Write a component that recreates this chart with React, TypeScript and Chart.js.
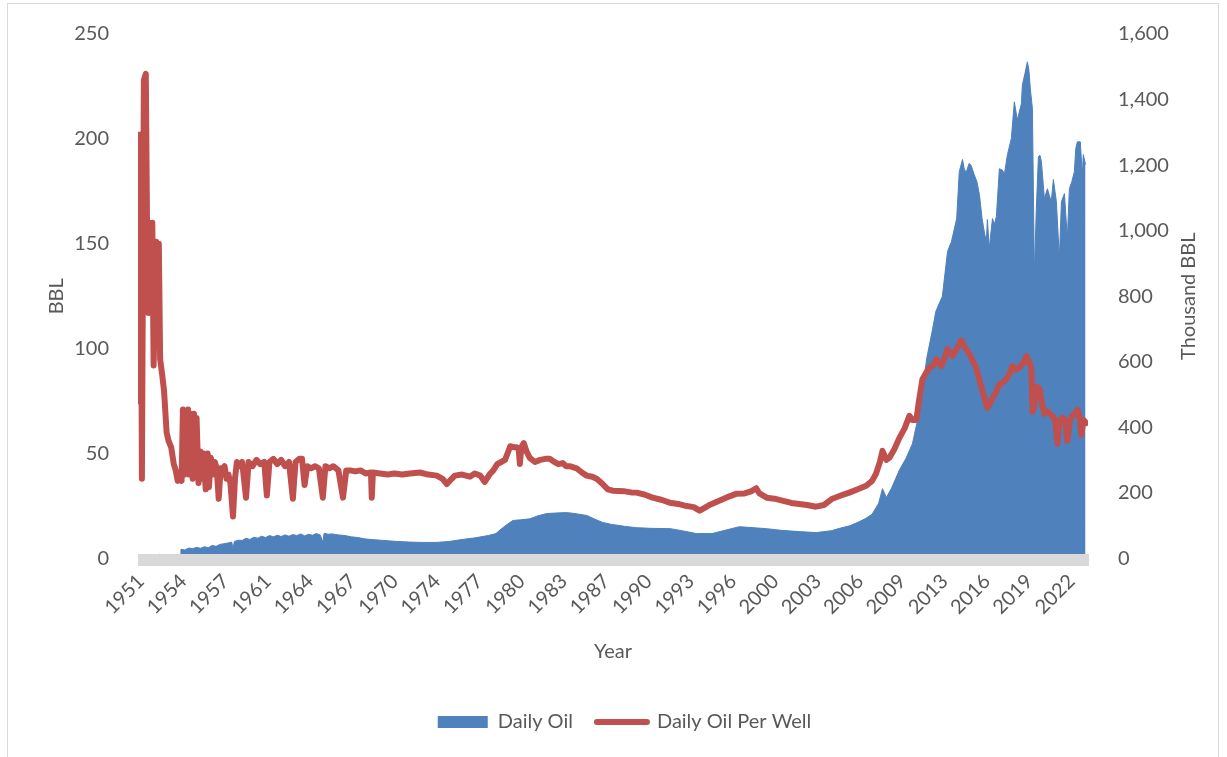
import React, { useEffect, useRef } from "react";
import { Chart, registerables } from "chart.js";

Chart.register(...registerables);

const BLUE = "#4f81bd";
const RED = "#c0504d";
const TEXT = "#595959";
const FONT = "Lato";

// X axis tick labels (one every 39 months starting mid-1951)
const xTickLabels = ["1951","1954","1957","1961","1964","1967","1970","1974","1977","1980","1983","1987","1990","1993","1996","2000","2003","2006","2009","2013","2016","2019","2022"];
const X_TICK_START = 1951.33;
const X_TICK_STEP = 3.25;
const X_MIN = 1951.1;
const X_MAX = 2024.09;

// Daily Oil Per Well (BBL, left axis)
const perWellYears = [
  1951.10,1951.15,1951.30,1951.40,1951.55,1951.70,1951.82,1951.90,1952.00,1952.10,1952.20,1952.30,1952.40,1952.50,1952.60,1952.70,1952.80,1952.95,1953.10,1953.30,
  1953.45,1953.65,1953.85,1954.00,1954.15,1954.30,1954.45,1954.55,1954.65,1954.75,1954.85,1954.95,1955.05,1955.15,1955.30,1955.40,1955.50,1955.60,1955.75,1955.90,
  1956.05,1956.15,1956.30,1956.45,1956.55,1956.70,1956.85,1957.00,1957.15,1957.30,1957.45,1957.60,1957.75,1957.90,1958.05,1958.20,1958.40,1958.55,1958.70,1958.90,
  1959.10,1959.40,1959.60,1959.90,1960.20,1960.50,1960.80,1961.00,1961.20,1961.50,1961.80,1962.10,1962.40,1962.70,1963.00,1963.20,1963.50,1963.70,1963.90,1964.10,
  1964.40,1964.70,1965.00,1965.30,1965.50,1965.80,1966.10,1966.50,1966.85,1967.10,1967.40,1967.80,1968.20,1968.60,1969.00,1969.06,1969.15,1969.70,1970.30,1970.80,
  1971.40,1972.00,1972.75,1973.40,1974.06,1974.50,1974.83,1975.20,1975.44,1976.00,1976.60,1976.97,1977.40,1977.74,1978.10,1978.40,1978.70,1979.00,1979.30,1979.55,
  1979.70,1980.00,1980.20,1980.35,1980.44,1980.55,1980.74,1980.95,1981.20,1981.60,1982.00,1982.40,1982.73,1983.10,1983.40,1983.73,1984.00,1984.27,1984.80,1985.20,
  1985.57,1986.00,1986.34,1986.80,1987.20,1987.57,1988.50,1989.00,1989.41,1990.00,1990.64,1991.30,1991.95,1992.60,1993.25,1993.80,1994.25,1994.60,1995.00,1995.80,
  1996.50,1997.10,1997.70,1998.20,1998.60,1998.85,1999.40,2000.00,2000.60,2001.30,2001.90,2002.50,2003.20,2003.80,2004.45,2005.10,2005.75,2006.40,2007.05,2007.50,
  2007.80,2008.10,2008.30,2008.60,2008.83,2009.20,2009.60,2010.00,2010.37,2010.60,2010.90,2011.10,2011.37,2011.60,2011.90,2012.20,2012.44,2012.83,2013.05,2013.29,
  2013.67,2014.00,2014.36,2014.60,2014.98,2015.25,2015.50,2015.75,2015.98,2016.20,2016.36,2016.55,2016.75,2017.00,2017.28,2017.55,2017.82,2018.05,2018.28,2018.55,
  2018.82,2019.10,2019.36,2019.55,2019.74,2019.82,2019.95,2020.10,2020.36,2020.55,2020.74,2021.00,2021.35,2021.55,2021.74,2021.90,2022.13,2022.35,2022.50,2022.70,
  2022.89,2023.10,2023.27,2023.45,2023.57,2023.75,2023.96
];
const perWellValues = [
  75,202,202,38,228,231,140,117,160,118,160,92,120,151,105,150,95,88,80,60,
  56,53,45,42,37,39,37,71,40,70,42,71,40,69,38,69,42,67,36,51,
  38,50,33,50,34,48,40,46,43,28.5,43,41,44,38,40,36,20,38,46,44,
  46,29,46,44,47,45,46,30,46,47.5,45,47,44,46,28.5,46,47.5,47.5,35,44,
  43,44,43,29,44,43,44,42,29,42,42,41.5,42,40.5,41,29,41,40.5,40,40.5,
  40,40.5,41,40,39.5,38,35.5,38,39.5,40,39,40.5,39.5,36.5,40,42,45,46,47,51,
  53.5,53,53,52,45,53,55,51,48,46,47,47.5,47.5,46,45,45.5,44,44,43,41,
  39.5,39,38,35.5,33,32.3,32,31.5,31.4,30.5,29,28,26.6,26,25,24.5,22.8,24,25.5,27.6,
  29.5,30.9,31,32,33.5,31,29,28.5,27.6,26.5,26,25.5,24.7,25.5,28.5,30,31.4,33,34.7,37,
  40.4,46,51.3,47,48,52,57.5,62,68,66,66,75,85.5,88,91,92,95,91.7,95,99.8,
  96.5,100,104,101,97.4,94,90.8,85,79.8,75,71.8,74,76.5,79,83,84,85.5,88,91.7,90,
  91,93,96.5,94,90.8,70,72,82,81,74,69,70,68,66,54.7,66,67,66,56,66,
  68,69,71,67,59,66,64.6
];

// Daily Oil (Thousand BBL, right axis)
const dailyOilYears = [
  1951.10,1952.70,1952.75,1952.80,1954.35,1954.40,1954.70,1955.00,1955.30,1955.60,1955.90,1956.20,1956.50,1956.80,1957.10,1957.40,1957.70,1958.00,1958.30,1958.40,
  1958.50,1958.80,1959.10,1959.40,1959.70,1960.00,1960.30,1960.60,1960.90,1961.20,1961.50,1961.80,1962.10,1962.40,1962.70,1963.00,1963.30,1963.60,1963.90,1964.20,
  1964.50,1964.80,1965.10,1965.30,1965.40,1965.70,1966.00,1966.50,1967.00,1967.50,1968.00,1968.50,1969.00,1970.00,1971.00,1972.00,1973.00,1974.00,1975.00,1976.00,
  1977.00,1978.00,1978.60,1979.00,1979.50,1979.90,1980.50,1981.20,1981.80,1982.50,1983.30,1984.00,1984.50,1985.00,1985.60,1986.20,1986.80,1987.50,1988.50,1989.40,
  1990.50,1992.00,1993.00,1994.00,1995.20,1996.00,1997.30,1998.00,1999.40,2000.50,2001.90,2003.20,2004.40,2005.00,2005.80,2006.50,2007.00,2007.50,2007.80,2008.00,
  2008.30,2008.60,2009.00,2009.60,2010.10,2010.60,2011.10,2011.40,2011.70,2012.10,2012.40,2012.90,2013.30,2013.60,2014.00,2014.20,2014.45,2014.60,2014.75,2014.95,
  2015.10,2015.35,2015.55,2015.75,2015.95,2016.15,2016.28,2016.36,2016.50,2016.75,2016.90,2017.05,2017.28,2017.50,2017.67,2017.90,2018.20,2018.43,2018.66,2018.97,
  2019.05,2019.25,2019.43,2019.55,2019.66,2019.82,2019.90,2019.97,2020.12,2020.28,2020.40,2020.51,2020.74,2020.97,2021.10,2021.27,2021.43,2021.66,2021.89,2022.05,
  2022.28,2022.50,2022.66,2022.85,2023.04,2023.15,2023.27,2023.50,2023.65,2023.73,2023.90
];
const dailyOilValues = [
  0,0,14,0,0,28,26,32,30,34,31,36,33,40,37,43,45,47,50,30,
  52,56,55,62,58,65,62,68,64,70,66,71,67,72,68,73,70,75,69,74,
  71,76,72,50,77,74,75,72,70,66,64,60,58,55,52,50,49,49,52,58,
  63,70,76,90,105,116,118,121,130,137,139,140,138,135,131,120,110,104,98,94,
  92,91,84,76,76,84,97,95,91,86,82,79,85,92,100,112,122,135,155,168,
  213,186,215,270,305,350,441,520,611,690,754,800,937,967,1037,1180,1217,1185,1180,1205,
  1200,1171,1150,1110,1037,990,967,1034,946,1037,1020,1043,1189,1185,1174,1232,1281,1393,1338,1387,
  1445,1480,1515,1490,1433,1372,1100,867,1068,1226,1230,1211,1098,1128,1110,1089,1156,1089,916,1089,
  1113,976,1128,1150,1180,1250,1271,1271,1171,1232,1202
];

const axisBandPlugin = {
  id: "axisBand",
  afterDatasetsDraw(chart: any) {
    const { ctx, chartArea } = chart;
    const y0 = chart.scales.y.getPixelForValue(0);
    ctx.save();
    ctx.fillStyle = "#d9d9d9";
    ctx.fillRect(chartArea.left, y0 - 4.5, chartArea.right - chartArea.left + 1, 12);
    ctx.restore();
  },
};

const rightTitlePlugin = {
  id: "rightTitle",
  afterDraw(chart: any) {
    const { ctx, chartArea } = chart;
    const s = chart.scales.y1;
    ctx.save();
    ctx.translate(s.right - 38, (chartArea.top + chartArea.bottom) / 2);
    ctx.rotate(-Math.PI / 2);
    ctx.font = `20px ${FONT}`;
    ctx.fillStyle = TEXT;
    ctx.textAlign = "center";
    ctx.textBaseline = "middle";
    ctx.fillText("Thousand BBL", 0, 0);
    ctx.restore();
  },
};

export default function App() {
  const canvasRef = useRef<HTMLCanvasElement | null>(null);

  useEffect(() => {
    if (!canvasRef.current) return;
    const font = { family: FONT, size: 20 };
    const redData = perWellYears.map((x, i) => ({ x, y: perWellValues[i] }));
    const blueData = dailyOilYears.map((x, i) => ({ x, y: dailyOilValues[i] }));
    const chart = new Chart(canvasRef.current, {
      type: "line",
      data: {
        datasets: [
          {
            label: "Daily Oil Per Well",
            data: redData,
            yAxisID: "y",
            borderColor: RED,
            backgroundColor: RED,
            borderWidth: 6,
            pointRadius: 0,
            fill: false,
            tension: 0,
            borderJoinStyle: "round",
            borderCapStyle: "round",
          },
          {
            label: "Daily Oil",
            data: blueData,
            yAxisID: "y1",
            borderColor: BLUE,
            backgroundColor: BLUE,
            borderWidth: 1,
            pointRadius: 0,
            fill: "origin",
            tension: 0,
          },
        ],
      },
      options: {
        animation: false,
        responsive: false,
        devicePixelRatio: 1,
        events: [],
        layout: { padding: { left: 22, top: 34, right: 0, bottom: 15 } },
        plugins: {
          tooltip: { enabled: false },
          legend: {
            position: "bottom",
            labels: {
              color: TEXT,
              font,
              usePointStyle: true,
              pointStyleWidth: 50,
              boxHeight: 12,
              padding: 24,
              generateLabels: () => [
                { text: "Daily Oil", fillStyle: BLUE, strokeStyle: BLUE, lineWidth: 0, pointStyle: "rect", hidden: false, datasetIndex: 1, fontColor: TEXT },
                { text: "Daily Oil Per Well", fillStyle: RED, strokeStyle: RED, lineWidth: 6, lineCap: "round", pointStyle: "line", hidden: false, datasetIndex: 0, fontColor: TEXT },
              ],
            },
          },
        },
        scales: {
          x: {
            type: "linear",
            min: X_MIN,
            max: X_MAX,
            grid: { display: false, drawTicks: false },
            border: { display: false },
            afterBuildTicks: (s: any) => {
              s.ticks = xTickLabels.map((_, i) => ({ value: X_TICK_START + X_TICK_STEP * i }));
            },
            ticks: {
              autoSkip: false,
              minRotation: 45,
              maxRotation: 45,
              padding: 11,
              color: TEXT,
              font,
              callback: (_v: any, i: number) => xTickLabels[i],
            },
            title: { display: true, text: "Year", color: TEXT, font, padding: { top: 0, bottom: 24 } },
            afterFit: (s: any) => {
              s.height = 129.5;
            },
          },
          y: {
            position: "left",
            min: 0,
            max: 250,
            grid: { display: false },
            border: { display: false },
            ticks: { stepSize: 50, padding: 21, color: TEXT, font },
            title: { display: true, text: "BBL", color: TEXT, font, padding: { top: 23, bottom: 0 } },
            afterFit: (s: any) => {
              s.width = 116;
            },
          },
          y1: {
            position: "right",
            min: 0,
            max: 1600,
            grid: { display: false },
            border: { display: false },
            ticks: {
              stepSize: 200,
              padding: 22,
              color: TEXT,
              font,
              callback: (v: any) => Number(v).toLocaleString("en-US"),
            },
            afterFit: (s: any) => {
              s.width = 139;
            },
          },
        },
      } as any,
      plugins: [axisBandPlugin, rightTitlePlugin],
    });
    return () => chart.destroy();
  }, []);

  return (
    <div style={{ position: "fixed", left: 0, top: 0, width: 1227, height: 757, background: "#fff", overflow: "hidden" }}>
      <div
        style={{
          position: "absolute",
          left: 7,
          top: 3,
          width: 1212,
          height: 800,
          border: "1px solid #d9d9d9",
          boxSizing: "border-box",
        }}
      />
      <canvas ref={canvasRef} width={1227} height={757} style={{ position: "absolute", left: 0, top: 0 }} />
    </div>
  );
}
